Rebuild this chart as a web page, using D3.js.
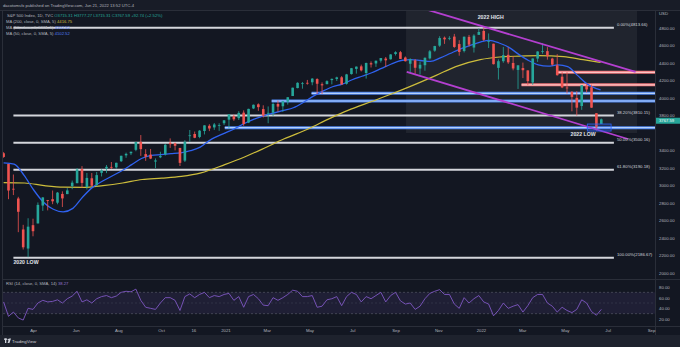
<!DOCTYPE html>
<html><head><meta charset="utf-8">
<script src="https://cdn.jsdelivr.net/npm/d3@7"></script>
<style>
html,body{margin:0;padding:0;background:#131722;overflow:hidden;}
svg{display:block;}
text{font-family:"Liberation Sans",Arial,sans-serif;}
</style></head><body>
<svg id="chart" width="680" height="347"></svg>
<script>
// ---- S&P 500 weekly bars (week starting Monday) ----
const firstWeek = "2020-02-17";
const weekOpen  = [3380,3257,2974,2863,2509,2291,2558,2578,2782,2846,2855,2815,2915,2913,3005,3038,3199,2994,3094,3018,
  3156,3206,3224,3219,3289,3356,3380,3419,3509,3370,3364,3285,3334,3367,3500,3494,3441,3296,3583,3600,
  3566,3634,3694,3675,3694,3723,3764,3803,3781,3844,3731,3892,3939,3885,3842,3844,3943,3917,3969,4034,
  4125,4179,4185,4191,4228,4169,4170,4216,4229,4248,4174,4285,4344,4373,4297,4409,4406,4438,4462,4454,
  4514,4535,4474,4403,4442,4348,4386,4464,4553,4610,4701,4689,4713,4628,4548,4710,4588,4733,4778,4656,
  4632,4356,4432,4505,4412,4332,4354,4327,4189,4462,4541,4547,4462,4385,4255,4131,4082,4013,3920,4151,
  4134,3838,3715];
const weekHigh  = [3393,3259,3137,2882,2562,2637,2632,2818,2879,2846,2954,2937,2945,2981,3068,3211,3233,3155,3154,3166,
  3198,3246,3280,3272,3352,3387,3399,3510,3588,3426,3429,3321,3397,3485,3550,3502,3441,3529,3646,3628,
  3645,3699,3712,3726,3723,3760,3827,3823,3861,3870,3889,3937,3950,3928,3915,3960,3983,3978,4021,4130,
  4191,4195,4218,4238,4237,4190,4214,4234,4255,4262,4287,4355,4372,4393,4415,4430,4440,4468,4480,4513,
  4546,4549,4486,4465,4457,4429,4475,4560,4608,4718,4714,4718,4744,4672,4713,4732,4740,4808,4819,4749,
  4632,4453,4595,4590,4490,4385,4416,4327,4465,4546,4637,4593,4471,4513,4308,4307,4090,4090,4158,4177,
  4164,3838,3777];
const weekLow   = [3328,2855,2902,2478,2280,2192,2431,2578,2721,2727,2798,2797,2766,2913,2969,3038,2984,2966,3004,3000,
  3115,3153,3201,3204,3280,3328,3359,3403,3350,3293,3313,3209,3324,3354,3441,3413,3234,3280,3511,3552,
  3552,3595,3633,3647,3636,3703,3663,3750,3760,3694,3725,3885,3865,3789,3723,3805,3854,3853,3936,4034,
  4122,4118,4164,4157,4057,4056,4167,4167,4206,4165,4165,4279,4290,4315,4233,4360,4367,4416,4367,4450,
  4497,4458,4428,4306,4288,4279,4323,4452,4540,4596,4630,4672,4585,4495,4532,4600,4531,4733,4663,4582,
  4395,4223,4414,4401,4328,4115,4239,4157,4161,4424,4517,4450,4381,4267,4124,4063,3859,3811,3876,4074,
  3900,3637,3715];
const weekClose = [3338,2954,2972,2711,2305,2541,2489,2790,2875,2837,2831,2930,2864,2955,3044,3194,3041,3098,3009,3130,
  3185,3225,3216,3271,3351,3373,3397,3508,3427,3341,3319,3298,3348,3477,3484,3465,3270,3510,3585,3557,
  3638,3699,3663,3709,3703,3756,3825,3768,3841,3714,3887,3934,3907,3811,3842,3943,3913,3975,4020,4129,
  4185,4180,4181,4233,4174,4156,4204,4230,4247,4166,4281,4352,4370,4327,4412,4395,4437,4468,4442,4509,
  4535,4458,4432,4455,4357,4391,4471,4545,4605,4697,4682,4698,4595,4538,4712,4621,4725,4766,4677,4663,
  4398,4432,4501,4419,4349,4385,4329,4204,4463,4543,4546,4488,4393,4272,4132,4123,4024,3901,4158,4109,
  3901,3675,3768];

// RSI (14) sampled once per week
const rsiValues = [52,25,33,22,18,40,38,50,55,52,53,56,50,58,63,72,52,56,50,58,
  62,64,60,63,70,72,71,76,55,42,40,38,50,60,60,55,36,62,67,60,
  66,70,60,64,62,66,68,55,62,42,62,66,58,46,45,60,55,60,66,74,
  72,62,62,64,42,44,56,58,62,45,62,70,66,52,62,58,64,70,52,64,
  70,54,48,50,38,44,58,68,72,75,66,66,48,40,60,50,58,64,52,48,
  26,36,50,40,44,47,33,45,60,66,66,50,44,33,42,36,32,38,56,50,
  34,27,38];

// 200-day simple moving average
const ma200Dates  = ["2020-02-19","2020-03-20","2020-04-17","2020-05-15","2020-06-12","2020-07-10","2020-08-07","2020-09-04",
  "2020-10-02","2020-10-30","2020-11-27","2020-12-31","2021-01-29","2021-02-26","2021-03-26","2021-04-30","2021-05-28",
  "2021-06-25","2021-07-30","2021-08-27","2021-09-24","2021-10-29","2021-11-26","2021-12-31","2022-01-28","2022-02-25",
  "2022-03-25","2022-04-29","2022-05-27","2022-06-21"];
const ma200Values = [3045,3040,3010,2992,2990,3010,3040,3080,3095,3115,3155,3250,3340,3440,3545,3660,3770,
  3870,3975,4060,4150,4270,4370,4450,4480,4490,4495,4485,4450,4417];

// 50-day simple moving average
const ma50Dates  = ["2020-02-19","2020-03-05","2020-03-19","2020-04-02","2020-04-16","2020-04-30","2020-05-14","2020-05-28",
  "2020-06-11","2020-06-25","2020-07-09","2020-07-23","2020-08-06","2020-08-20","2020-09-03","2020-09-17","2020-10-01",
  "2020-10-15","2020-10-29","2020-11-12","2020-11-26","2020-12-10","2020-12-31","2021-01-14","2021-01-28","2021-02-11",
  "2021-02-25","2021-03-11","2021-03-25","2021-04-08","2021-04-22","2021-05-06","2021-05-20","2021-06-03","2021-06-17",
  "2021-07-01","2021-07-15","2021-07-29","2021-08-12","2021-08-26","2021-09-09","2021-09-23","2021-10-07","2021-10-21",
  "2021-11-04","2021-11-18","2021-12-02","2021-12-16","2021-12-31","2022-01-13","2022-01-27","2022-02-10","2022-02-24",
  "2022-03-10","2022-03-24","2022-04-07","2022-04-21","2022-05-05","2022-05-19","2022-06-02","2022-06-21"];
const ma50Values = [3270,3255,3130,2960,2820,2740,2710,2750,2880,2990,3060,3120,3180,3250,3320,3355,3365,
  3375,3385,3410,3450,3530,3610,3660,3720,3770,3810,3840,3870,3900,3960,4030,4090,4140,4170,
  4220,4260,4300,4350,4400,4440,4450,4440,4430,4470,4520,4570,4610,4650,4670,4640,4590,4510,
  4440,4390,4375,4390,4370,4270,4170,4103];

// Fibonacci retracement from the 2022 high to the 2020 low
const fibRatios = ["0.00%","38.20%","50.00%","61.80%","100.00%"];
const fibLevels = [4813.66, 3810.15, 3500.16, 3190.18, 2186.67];
const fibSpan   = ["2020-03-04","2022-07-10"];

// Horizontal support (blue) and resistance (red) levels
const supportLevels    = [4065, 3977, 3672];
const supportStarts    = ["2021-05-04","2021-03-08","2020-12-31"];
const resistanceLevels = [4305, 4162];
const resistanceStarts = ["2022-04-21","2022-02-28"];

// Descending channel and shaded zone
const channelUpper = {dates:["2021-09-14","2022-08-10"], prices:[5097, 4309]};
const channelLower = {dates:["2021-09-17","2022-07-30"], prices:[4309, 3543]};
const zoneDates  = ["2021-09-16","2022-08-12"];
const zonePrices = [5017, 3611];
const lowBoxDates  = ["2022-06-02","2022-07-06"];
const lowBoxPrices = [3714, 3634];

const notes = [
  {text:"2022 HIGH", date:"2022-01-15", price:4914},
  {text:"2022 LOW",  date:"2022-05-27", price:3577},
  {text:"2020 LOW",  date:"2020-03-22", price:2114}
];

const priceTicks = [4800,4600,4400,4200,4000,3800,3400,3200,3000,2800,2600,2400,2200,2000];
const rsiTicks   = [80,60,40,20];
const timeTickDates  = ["2020-04-01","2020-06-01","2020-08-01","2020-10-01","2020-11-16","2021-01-01","2021-03-01",
  "2021-05-01","2021-07-01","2021-09-01","2021-11-01","2022-01-01","2022-03-01","2022-05-01","2022-07-01","2022-09-01"];
const timeTickLabels = ["Apr","Jun","Aug","Oct","16","2021","Mar","May","Jul","Sep","Nov","2022","Mar","May","Jul","Sep"];
const lastClose = 3767.59;

// ---- layout ----
const W = 680, H = 347;
const pane = {left:3, right:655, top:10, bottom:279};
const rsiPane = {top:279, bottom:326};
const axisBottom = 335;
const C = {bg:"#131722", panel:"#1e222d", border:"#2a2e39", text:"#b2b5be", up:"#26a69a", down:"#ef5350",
  ma200:"#cdbd3c", ma50:"#2f62f0", rsi:"#7e57c2", chan:"#b43fd0"};

const parse = d3.utcParse("%Y-%m-%d");
const x  = d3.scaleUtc().domain([parse("2020-04-01"), parse("2022-09-01")]).range([33, 651]);
const y  = d3.scaleLinear().domain([2000, 4800]).range([274, 29]);
const yR = d3.scaleLinear().domain([20, 80]).range([319, 287]);

const svg = d3.select("#chart");
svg.append("rect").attr("width",W).attr("height",H).attr("fill",C.bg);
// header strip and footer strip
svg.append("rect").attr("width",W).attr("height",pane.top).attr("fill","#181c27");
svg.append("rect").attr("y",axisBottom).attr("width",W).attr("height",H-axisBottom).attr("fill",C.panel);

const defs = svg.append("defs");
defs.append("clipPath").attr("id","clipMain").append("rect")
  .attr("x",pane.left).attr("y",pane.top).attr("width",pane.right-pane.left).attr("height",pane.bottom-pane.top);
defs.append("clipPath").attr("id","clipRsi").append("rect")
  .attr("x",pane.left).attr("y",rsiPane.top).attr("width",pane.right-pane.left).attr("height",rsiPane.bottom-rsiPane.top);

const main = svg.append("g").attr("clip-path","url(#clipMain)");

// shaded zone behind price
main.append("rect")
  .attr("x",x(parse(zoneDates[0]))).attr("y",y(zonePrices[0]))
  .attr("width",x(parse(zoneDates[1]))-x(parse(zoneDates[0])))
  .attr("height",y(zonePrices[1])-y(zonePrices[0]))
  .attr("fill","rgba(120,123,134,0.13)");

// fibonacci lines
const fx0 = x(parse(fibSpan[0])), fx1 = x(parse(fibSpan[1]));
fibLevels.forEach(v=>{
  main.append("line").attr("x1",fx0).attr("x2",fx1).attr("y1",y(v)).attr("y2",y(v))
    .attr("stroke","#d4d6dc").attr("stroke-width",2);
});

// support / resistance bands
function levelLine(v, start, outer, inner){
  const g = main.append("g");
  g.append("line").attr("x1",x(parse(start))).attr("x2",pane.right).attr("y1",y(v)).attr("y2",y(v))
    .attr("stroke",outer).attr("stroke-width",3);
  g.append("line").attr("x1",x(parse(start))).attr("x2",pane.right).attr("y1",y(v)).attr("y2",y(v))
    .attr("stroke",inner).attr("stroke-width",1.2);
}
supportLevels.forEach((v,i)=>levelLine(v, supportStarts[i], "#4f86ee", "#b4d0fb"));
resistanceLevels.forEach((v,i)=>levelLine(v, resistanceStarts[i], "#f0767a", "#fbc4c4"));

// moving averages
const maLine = d3.line().x(d=>x(d[0])).y(d=>y(d[1])).curve(d3.curveMonotoneX);
main.append("path").datum(ma200Dates.map((d,i)=>[parse(d), ma200Values[i]]))
  .attr("d",maLine).attr("fill","none").attr("stroke",C.ma200).attr("stroke-width",1.2);
main.append("path").datum(ma50Dates.map((d,i)=>[parse(d), ma50Values[i]]))
  .attr("d",maLine).attr("fill","none").attr("stroke",C.ma50).attr("stroke-width",1.3);

// candles
const start = parse(firstWeek);
const bars = weekClose.map((c,i)=>({
  date: d3.utcDay.offset(start, 7*i + 2), o: weekOpen[i], h: weekHigh[i], l: weekLow[i], c
}));
const cg = main.append("g");
bars.forEach(b=>{
  const col = b.c >= b.o ? C.up : C.down;
  const cx = x(b.date);
  cg.append("line").attr("x1",cx).attr("x2",cx).attr("y1",y(b.h)).attr("y2",y(b.l))
    .attr("stroke",col).attr("stroke-width",0.8);
  const top = y(Math.max(b.o,b.c)), bot = y(Math.min(b.o,b.c));
  cg.append("rect").attr("x",cx-1.3).attr("width",2.6).attr("y",top).attr("height",Math.max(0.8, bot-top))
    .attr("fill",col);
});

// descending channel
[channelUpper, channelLower].forEach(ch=>{
  main.append("line")
    .attr("x1",x(parse(ch.dates[0]))).attr("y1",y(ch.prices[0]))
    .attr("x2",x(parse(ch.dates[1]))).attr("y2",y(ch.prices[1]))
    .attr("stroke",C.chan).attr("stroke-width",1.8);
});

// highlight box at the recent low
main.append("rect")
  .attr("x",x(parse(lowBoxDates[0]))).attr("y",y(lowBoxPrices[0]))
  .attr("width",x(parse(lowBoxDates[1]))-x(parse(lowBoxDates[0])))
  .attr("height",y(lowBoxPrices[1])-y(lowBoxPrices[0]))
  .attr("fill","rgba(41,98,255,0.18)").attr("stroke","#2962ff").attr("stroke-width",0.8);

// fib labels
fibLevels.forEach((v,i)=>{
  main.append("text").attr("x",fx1+3).attr("y",y(v)-2)
    .attr("font-size",4.3).attr("fill","#d1d4dc").text(`${fibRatios[i]}(${v.toFixed(2)})`);
});

// annotations
notes.forEach(n=>{
  main.append("text").attr("x",x(parse(n.date))).attr("y",y(n.price))
    .attr("text-anchor","middle").attr("font-size",5.2).attr("font-weight",600)
    .attr("fill","#e0e3eb").text(n.text);
});

// ---- RSI pane ----
const rg = svg.append("g").attr("clip-path","url(#clipRsi)");
rg.append("rect").attr("x",pane.left).attr("width",pane.right-pane.left)
  .attr("y",yR(70)).attr("height",yR(30)-yR(70)).attr("fill","rgba(126,87,194,0.12)");
[70,50,30].forEach(v=>{
  rg.append("line").attr("x1",pane.left).attr("x2",pane.right).attr("y1",yR(v)).attr("y2",yR(v))
    .attr("stroke", v===50 ? "rgba(120,123,134,0.35)" : "rgba(120,123,134,0.7)")
    .attr("stroke-width",0.6).attr("stroke-dasharray","2,2");
});
rg.append("path").datum(bars.map((b,i)=>[b.date, rsiValues[i]]))
  .attr("d", d3.line().x(d=>x(d[0])).y(d=>yR(d[1])))
  .attr("fill","none").attr("stroke",C.rsi).attr("stroke-width",0.9);

// ---- separators ----
const sep = (x1,y1,x2,y2)=>svg.append("line").attr("x1",x1).attr("y1",y1).attr("x2",x2).attr("y2",y2)
  .attr("stroke",C.border).attr("stroke-width",1);
sep(0,pane.top+0.5,W,pane.top+0.5);
sep(pane.right+0.5,pane.top,pane.right+0.5,axisBottom);
sep(pane.left-0.5,pane.top,pane.left-0.5,axisBottom);
sep(pane.left,rsiPane.top+0.5,W,rsiPane.top+0.5);
sep(pane.left,rsiPane.bottom+0.5,W,rsiPane.bottom+0.5);

// ---- price axis ----
const priceAxis = d3.axisRight(y).tickValues(priceTicks).tickSize(0).tickPadding(0).tickFormat(d=>d.toFixed(2));
const pa = svg.append("g").attr("transform",`translate(${pane.right+4},-1)`).call(priceAxis);
pa.select(".domain").remove();
pa.selectAll("text").attr("font-size",4.3).attr("fill",C.text).attr("font-family","Liberation Sans, Arial, sans-serif");
svg.append("text").attr("x",pane.right+4).attr("y",15).attr("font-size",4.3).attr("fill",C.text).text("USD");

// last price tag
const tagY = y(lastClose);
svg.append("rect").attr("x",pane.right+1).attr("y",tagY-1.6).attr("width",W-pane.right-1).attr("height",6)
  .attr("fill",C.up);
svg.append("text").attr("x",pane.right+4).attr("y",tagY+2.9).attr("font-size",4.2)
  .attr("fill","#ffffff").text(lastClose.toFixed(2));

// RSI axis
const rsiAxis = d3.axisRight(yR).tickValues(rsiTicks).tickSize(0).tickPadding(0).tickFormat(d=>d.toFixed(2));
const ra = svg.append("g").attr("transform",`translate(${pane.right+4},0)`).call(rsiAxis);
ra.select(".domain").remove();
ra.selectAll("text").attr("font-size",4.3).attr("fill",C.text).attr("font-family","Liberation Sans, Arial, sans-serif");

// ---- time axis ----
const timeAxis = d3.axisBottom(x).tickValues(timeTickDates.map(parse)).tickSize(0).tickPadding(0)
  .tickFormat((d,i)=>timeTickLabels[i]);
const ta = svg.append("g").attr("transform",`translate(0,${rsiPane.bottom+3})`).call(timeAxis);
ta.select(".domain").remove();
ta.selectAll("text").attr("font-size",4.3).attr("fill",C.text).attr("font-family","Liberation Sans, Arial, sans-serif");

// ---- legend ----
const lg = svg.append("g").attr("font-size",4.2);
lg.append("text").attr("x",3).attr("y",6.5).attr("fill",C.text)
  .text("dacotomsfx published on TradingView.com, Jun 21, 2022 13:52 UTC-4");
const r1 = lg.append("text").attr("x",7).attr("y",16.5).attr("fill",C.text);
r1.append("tspan").text("S&P 500 Index, 1D, TVC  ");
r1.append("tspan").attr("fill",C.up).text("O3715.31  H3777.27  L3715.31  C3767.59  +92.74 (+2.52%)");
const legendRows = [
  {label:"MA (200, close, 0, SMA, 5)", value:"4416.75", color:C.ma200, y:22.5},
  {label:"MA (50, close, 0, SMA, 5)",  value:"4102.52", color:"#4f7df5", y:28.8},
  {label:"MA (50, close, 0, SMA, 5)",  value:"4102.52", color:"#4f7df5", y:35}
];
legendRows.forEach(r=>{
  const t = lg.append("text").attr("x",6).attr("y",r.y).attr("fill",C.text);
  t.append("tspan").text(r.label + "  ");
  t.append("tspan").attr("fill",r.color).text(r.value);
});
const rl = lg.append("text").attr("x",6).attr("y",rsiPane.top+6).attr("fill",C.text);
rl.append("tspan").text("RSI (14, close, 0, SMA, 14)  ");
rl.append("tspan").attr("fill","#9575cd").text("38.27");

// ---- footer logo ----
const logo = svg.append("g").attr("transform","translate(4,338.5)").attr("fill","#d1d4dc");
logo.append("rect").attr("x",0).attr("y",0).attr("width",3).attr("height",1.3);
logo.append("rect").attr("x",1).attr("y",0).attr("width",1.3).attr("height",4.5);
logo.append("circle").attr("cx",4.3).attr("cy",1.1).attr("r",0.8);
logo.append("path").attr("d","M5.2,0 L7,0 L5.4,4.5 L3.6,4.5 Z");
svg.append("text").attr("x",12).attr("y",343).attr("font-size",4.4).attr("fill","#d1d4dc").text("TradingView");
</script>
</body></html>
